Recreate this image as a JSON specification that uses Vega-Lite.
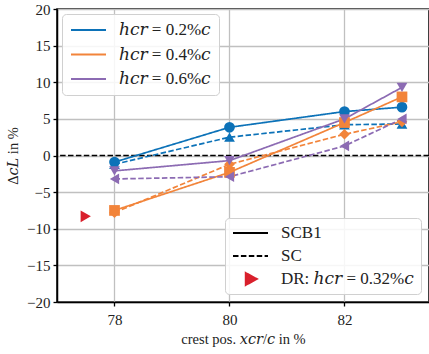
{
  "$schema": "https://vega.github.io/schema/vega-lite/v6.json",
  "width": 372,
  "height": 293,
  "padding": {"left": 5, "top": 2, "right": 0, "bottom": 2},
  "config": {
    "font": "Liberation Serif, DejaVu Serif",
    "view": {"stroke": "black", "strokeWidth": 1.5},
    "axis": {
      "labelFont": "Liberation Serif, DejaVu Serif", "labelFontSize": 15, "labelColor": "#222", "labelOverlap": false,
      "titleFont": "Liberation Serif, DejaVu Serif", "titleFontSize": 14.5, "titleFontWeight": "normal", "titleColor": "#222",
      "domainColor": "black", "domainWidth": 1.5, "tickColor": "black", "tickWidth": 1.3, "tickSize": 4,
      "gridColor": "#c0c0c0", "gridWidth": 1.3, "labelPadding": 3, "format": "d", "grid": true
    },
    "legend": {
      "labelFont": "Liberation Serif, DejaVu Serif", "labelFontSize": 17, "labelColor": "#222",
      "fillColor": "rgba(255,255,255,0.85)", "strokeColor": "#d0d0d0", "cornerRadius": 4,
      "padding": 7, "labelOffset": 12, "clipHeight": 16
    }
  },
  "datasets": {
    "curves": [
      {"h": "ℎ𝑐𝑟 = 0.2%𝑐", "type": "SCB1", "x": 78, "y": -0.9},
      {"h": "ℎ𝑐𝑟 = 0.2%𝑐", "type": "SCB1", "x": 80, "y": 3.85},
      {"h": "ℎ𝑐𝑟 = 0.2%𝑐", "type": "SCB1", "x": 82, "y": 6.0},
      {"h": "ℎ𝑐𝑟 = 0.2%𝑐", "type": "SCB1", "x": 83, "y": 6.6},
      {"h": "ℎ𝑐𝑟 = 0.2%𝑐", "type": "SC", "x": 78, "y": -1.2},
      {"h": "ℎ𝑐𝑟 = 0.2%𝑐", "type": "SC", "x": 80, "y": 2.5},
      {"h": "ℎ𝑐𝑟 = 0.2%𝑐", "type": "SC", "x": 82, "y": 4.2},
      {"h": "ℎ𝑐𝑟 = 0.2%𝑐", "type": "SC", "x": 83, "y": 4.3},
      {"h": "ℎ𝑐𝑟 = 0.4%𝑐", "type": "SCB1", "x": 78, "y": -7.5},
      {"h": "ℎ𝑐𝑟 = 0.4%𝑐", "type": "SCB1", "x": 80, "y": -2.3},
      {"h": "ℎ𝑐𝑟 = 0.4%𝑐", "type": "SCB1", "x": 82, "y": 4.5},
      {"h": "ℎ𝑐𝑟 = 0.4%𝑐", "type": "SCB1", "x": 83, "y": 8.0},
      {"h": "ℎ𝑐𝑟 = 0.4%𝑐", "type": "SC", "x": 78, "y": -7.8},
      {"h": "ℎ𝑐𝑟 = 0.4%𝑐", "type": "SC", "x": 80, "y": -1.2},
      {"h": "ℎ𝑐𝑟 = 0.4%𝑐", "type": "SC", "x": 82, "y": 2.9},
      {"h": "ℎ𝑐𝑟 = 0.4%𝑐", "type": "SC", "x": 83, "y": 4.6},
      {"h": "ℎ𝑐𝑟 = 0.6%𝑐", "type": "SCB1", "x": 78, "y": -2.1},
      {"h": "ℎ𝑐𝑟 = 0.6%𝑐", "type": "SCB1", "x": 80, "y": -0.7},
      {"h": "ℎ𝑐𝑟 = 0.6%𝑐", "type": "SCB1", "x": 82, "y": 5.0},
      {"h": "ℎ𝑐𝑟 = 0.6%𝑐", "type": "SCB1", "x": 83, "y": 9.3},
      {"h": "ℎ𝑐𝑟 = 0.6%𝑐", "type": "SC", "x": 78, "y": -3.2},
      {"h": "ℎ𝑐𝑟 = 0.6%𝑐", "type": "SC", "x": 80, "y": -2.9},
      {"h": "ℎ𝑐𝑟 = 0.6%𝑐", "type": "SC", "x": 82, "y": 1.3},
      {"h": "ℎ𝑐𝑟 = 0.6%𝑐", "type": "SC", "x": 83, "y": 5.0}
    ],
    "dr": [
      {"type": "DR: ℎ𝑐𝑟 = 0.32%𝑐", "x": 77.5, "y": -8.3}
    ],
    "zero": [
      {"y": 0}
    ]
  },
  "layer": [
    {
      "data": {"name": "zero"},
      "mark": {"type": "rule", "color": "black", "strokeWidth": 1.6, "strokeDash": [5.5, 2.4]},
      "encoding": {"y": {"field": "y", "type": "quantitative",
              "scale": {"domain": [-20, 20], "nice": false},
              "axis": {"values": [-20, -15, -10, -5, 0, 5, 10, 15, 20], "tickCount": 9, "title": "Δ𝑐𝐿 in %", "titlePadding": 6}}}
    },
    {
      "data": {"name": "curves"},
      "mark": {"type": "line", "strokeWidth": 1.7},
      "encoding": {
        "x": {"field": "x", "type": "quantitative",
              "scale": {"domain": [77, 83.47], "nice": false, "zero": false},
              "axis": {"values": [78, 80, 82], "title": "crest pos. 𝑥𝑐𝑟/𝑐 in %", "titlePadding": 5, "labelPadding": 6}},
        "y": {"field": "y", "type": "quantitative",
              "axis": {"values": [-20, -15, -10, -5, 0, 5, 10, 15, 20], "tickCount": 9, "title": "Δ𝑐𝐿 in %", "titlePadding": 6}},
        "color": {"field": "h", "type": "nominal",
                  "scale": {"domain": ["ℎ𝑐𝑟 = 0.2%𝑐", "ℎ𝑐𝑟 = 0.4%𝑐", "ℎ𝑐𝑟 = 0.6%𝑐"], "range": ["#0c72b8", "#f2843a", "#8c6bb3"]},
                  "legend": {"title": null, "orient": "top-left", "offset": 5, "padding": 8, "rowPadding": 7.5, "symbolType": "stroke", "symbolSize": 1225, "symbolStrokeWidth": 2}},
        "strokeDash": {"field": "type", "type": "nominal",
                  "scale": {"domain": ["SCB1", "SC", "DR: ℎ𝑐𝑟 = 0.32%𝑐"], "range": [[1, 0], [5.5, 2.4], [1, 0]]},
                  "legend": {"title": null, "orient": "bottom-right", "offset": 8, "rowPadding": 6, "symbolType": "stroke", "symbolSize": 1225, "symbolStrokeWidth": 2,
                    "encode": {"symbols": {"update": {
                      "shape": {"signal": "(datum.index === 2 ? 'M-0.27,-0.34L0.36,0L-0.27,0.34Z' : 'stroke')"},
                      "fill": {"signal": "(datum.index === 2 ? '#d9202c' : 'transparent')"},
                      "stroke": {"signal": "(datum.index === 2 ? '#d9202c' : 'black')"}
                    }}}}},
        "detail": {"field": "type", "type": "nominal"}
      }
    },
    {
      "data": {"name": "curves"},
      "transform": [{"calculate": "datum.h + ' ' + datum.type", "as": "key"}],
      "mark": {"type": "point", "filled": true, "size": 115, "opacity": 1},
      "encoding": {
        "x": {"field": "x", "type": "quantitative"},
        "y": {"field": "y", "type": "quantitative"},
        "color": {"field": "h", "type": "nominal", "legend": null},
        "shape": {"field": "key", "type": "nominal", "legend": null,
                  "scale": {"domain": ["ℎ𝑐𝑟 = 0.2%𝑐 SCB1", "ℎ𝑐𝑟 = 0.2%𝑐 SC", "ℎ𝑐𝑟 = 0.4%𝑐 SCB1", "ℎ𝑐𝑟 = 0.4%𝑐 SC", "ℎ𝑐𝑟 = 0.6%𝑐 SCB1", "ℎ𝑐𝑟 = 0.6%𝑐 SC"],
                            "range": ["circle", "triangle-up", "square", "diamond", "triangle-down", "triangle-left"]}}
      }
    },
    {
      "data": {"name": "dr"},
      "mark": {"type": "point", "filled": true, "size": 140, "shape": "triangle-right", "color": "#d9202c", "opacity": 1},
      "encoding": {
        "x": {"field": "x", "type": "quantitative"},
        "y": {"field": "y", "type": "quantitative"}
      }
    }
  ]
}
